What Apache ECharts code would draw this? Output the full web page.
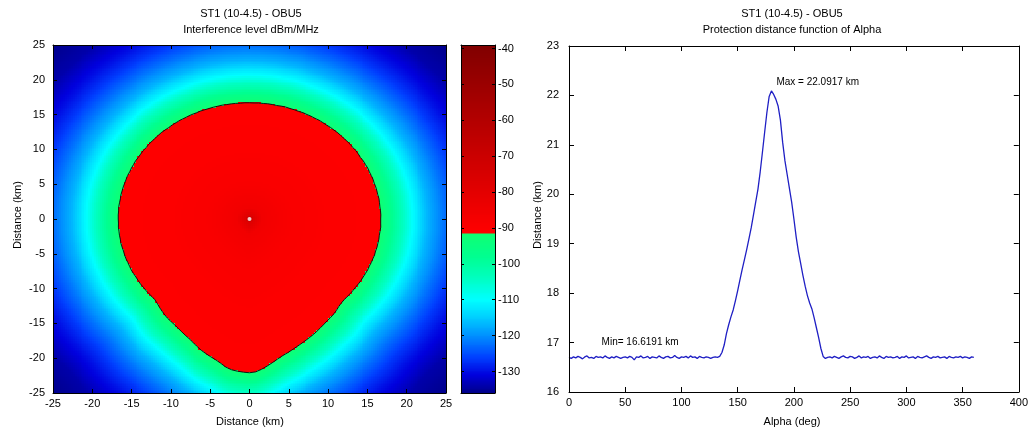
<!DOCTYPE html>
<html lang="en">
<head>
  <meta charset="UTF-8" />
  <title>ST1 (10-4.5) - OBU5</title>
  <script src="https://cdn.jsdelivr.net/npm/echarts@6/dist/echarts.min.js"></script>
  <style>
    body { margin: 0; background: #fff; }
    #chart { width: 1031px; height: 435px; }
  </style>
</head>
<body>
  <div id="chart"></div>
  <script>
    // protection distance (km) vs alpha (deg, clockwise from north), read every 2 deg
    const protDist = [
      16.70, 16.68, 16.71, 16.69, 16.72, 16.70, 16.67, 16.71, 16.73, 16.69,
      16.70, 16.68, 16.72, 16.70, 16.71, 16.69, 16.73, 16.70, 16.68, 16.71,
      16.69, 16.72, 16.70, 16.68, 16.70, 16.71, 16.69, 16.72, 16.70, 16.65,
      16.71, 16.70, 16.73, 16.69, 16.70, 16.72, 16.68, 16.71, 16.70, 16.69,
      16.73, 16.70, 16.68, 16.71, 16.72, 16.69, 16.70, 16.74, 16.70, 16.68,
      16.71, 16.70, 16.72, 16.69, 16.73, 16.70, 16.71, 16.68, 16.72, 16.70,
      16.69, 16.71, 16.70, 16.68, 16.70, 16.71, 16.70,
      16.72, 16.80, 16.95, 17.18, 17.36, 17.52, 17.66, 17.85, 18.05, 18.27,
      18.48, 18.68, 18.88, 19.10, 19.32, 19.58, 19.84, 20.10, 20.45, 20.85,
      21.26, 21.66, 21.98, 22.0917, 22.02, 21.92, 21.78, 21.50, 21.05, 20.68,
      20.40, 20.12, 19.84, 19.50, 19.14, 18.84, 18.60, 18.36, 18.14, 17.95,
      17.80, 17.68, 17.50, 17.30, 17.10, 16.88, 16.72,
      16.68, 16.70, 16.71, 16.69, 16.72, 16.70, 16.68, 16.71, 16.73, 16.70,
      16.69, 16.72, 16.71, 16.68, 16.70, 16.73, 16.69, 16.71, 16.70, 16.72,
      16.68, 16.70, 16.71, 16.69, 16.73, 16.70, 16.68, 16.72, 16.70, 16.71,
      16.69, 16.70, 16.72, 16.68, 16.71, 16.70, 16.73, 16.69, 16.70, 16.71,
      16.68, 16.72, 16.70, 16.69, 16.71, 16.73, 16.70, 16.68, 16.71, 16.70,
      16.72, 16.69, 16.70, 16.71, 16.68, 16.72, 16.70, 16.69, 16.71, 16.70,
      16.72, 16.69, 16.71, 16.70, 16.68, 16.71, 16.70
    ];
    const alphaDeg = protDist.map((_, i) => i * 2);

    const outerKm = [0, 1, 2, 3, 4, 5, 6, 8, 10, 12, 15, 19];
    const outerDb = [-92, -96, -100.5, -105, -110, -113.5, -117, -122, -126.5, -130, -134, -136];
    // inside the contour, vs fraction of the protection distance
    const innerFrac = [0, 0.03, 0.1, 0.3, 0.6, 1];
    const innerDb = [-60, -78, -86, -89, -90.5, -91.2];
    const sourcePos = [[0, 0]];

    const levelTicks = [-130, -120, -110, -100, -90, -80, -70, -60, -50, -40];
    const levelMin = -136, levelMax = -39, threshold = -91.5;

    // colour map: jet-like below the threshold, reds above it
    const colorStops = [
      [-136, [0, 0, 136]], [-131, [0, 0, 221]], [-126, [0, 64, 255]], [-120, [0, 144, 255]],
      [-114, [0, 216, 255]], [-110, [0, 255, 255]], [-104, [0, 255, 192]], [-98, [0, 255, 144]],
      [threshold - 0.01, [16, 255, 112]], [threshold, [255, 0, 0]], [-39, [128, 0, 0]]
    ];
    function colorAt(v) {
      let a = colorStops[0], b = colorStops[colorStops.length - 1];
      for (let i = 1; i < colorStops.length; i++) {
        if (v <= colorStops[i][0]) { a = colorStops[i - 1]; b = colorStops[i]; break; }
      }
      const t = Math.max(0, Math.min(1, (v - a[0]) / (b[0] - a[0])));
      const c = a[1].map((ch, k) => Math.round(ch + t * (b[1][k] - ch)));
      return 'rgb(' + c.join(',') + ')';
    }
    const palette = [];
    for (let v = levelMin; v <= levelMax + 1e-9; v += 0.25) palette.push(colorAt(v));

    function interp(xs, ys, x) {
      if (x <= xs[0]) return ys[0];
      for (let i = 1; i < xs.length; i++) {
        if (x <= xs[i]) return ys[i - 1] + (x - xs[i - 1]) / (xs[i] - xs[i - 1]) * (ys[i] - ys[i - 1]);
      }
      return ys[ys.length - 1];
    }

    // field cells built from the read profiles
    const cell = 0.25;
    const field = [];
    for (let x = -25 + cell / 2; x < 25; x += cell) {
      for (let y = -25 + cell / 2; y < 25; y += cell) {
        const r = Math.hypot(x, y);
        let a = Math.atan2(x, y) * 180 / Math.PI;
        if (a < 0) a += 360;
        const d = interp(alphaDeg, protDist, a);
        const v = r <= d ? interp(innerFrac, innerDb, r / d) : interp(outerKm, outerDb, r - d);
        field.push([x, y, v]);
      }
    }
    const barCells = [];
    for (let v = levelMin + 0.125; v < levelMax; v += 0.25) barCells.push([0.5, v, v]);

    const contour = alphaDeg.map((a, i) => {
      const rad = a * Math.PI / 180;
      return [protDist[i] * Math.sin(rad), protDist[i] * Math.cos(rad)];
    });
    const profile = alphaDeg.map((a, i) => [a, protDist[i]]);

    function cellRenderer(hx, hy) {
      return function (params, api) {
        const x = api.value(0), y = api.value(1);
        const p0 = api.coord([x - hx, y + hy]);
        const p1 = api.coord([x + hx, y - hy]);
        const x0 = Math.round(p0[0]), y0 = Math.round(p0[1]);
        const x1 = Math.round(p1[0]), y1 = Math.round(p1[1]);
        if (x1 <= x0 || y1 <= y0) return null;
        return { type: 'rect', shape: { x: x0, y: y0, width: x1 - x0, height: y1 - y0 },
          style: { fill: api.visual('color') } };
      };
    }

    const font = '"Liberation Sans", Arial, sans-serif';
    const label = { color: '#000', fontSize: 11, fontFamily: font };
    const line = { lineStyle: { color: '#000', width: 1 } };

    function axis(extra) {
      return Object.assign({
        type: 'value', z: 10, axisLine: Object.assign({ onZero: false }, line),
        axisTick: { inside: true, length: 4, lineStyle: { color: '#000' } },
        axisLabel: Object.assign({}, label), splitLine: { show: false }
      }, extra);
    }
    const noLabel = { show: false };
    const longTick = { inside: true, length: 5, lineStyle: { color: '#000' } };

    function text(str, x, y, rotate) {
      return {
        type: 'text', x: x, y: y, rotation: rotate ? Math.PI / 2 : 0,
        style: { text: str, align: 'center', verticalAlign: 'middle', fill: '#000', font: '11px ' + font }
      };
    }

    const chart = echarts.init(document.getElementById('chart'));
    chart.setOption({
      backgroundColor: '#fff',
      animation: false,
      grid: [
        { left: 53, top: 45, width: 393, height: 348 },
        { left: 461, top: 45, width: 34, height: 348 },
        { left: 569, top: 46, width: 450, height: 346 }
      ],
      xAxis: [
        axis({ gridIndex: 0, min: -25, max: 25, interval: 5, axisLabel: Object.assign({ margin: 5 }, label) }),
        axis({ gridIndex: 0, position: 'top', min: -25, max: 25, interval: 5, axisLabel: noLabel }),
        axis({ gridIndex: 1, min: 0, max: 1, axisTick: noLabel, axisLabel: noLabel }),
        axis({ gridIndex: 1, position: 'top', min: 0, max: 1, axisTick: noLabel, axisLabel: noLabel }),
        axis({ gridIndex: 2, min: 0, max: 400, interval: 50, axisTick: longTick, axisLabel: Object.assign({ margin: 5 }, label) }),
        axis({ gridIndex: 2, position: 'top', min: 0, max: 400, interval: 50, axisTick: longTick, axisLabel: noLabel })
      ],
      yAxis: [
        axis({ gridIndex: 0, min: -25, max: 25, interval: 5, axisLabel: Object.assign({ margin: 8 }, label) }),
        axis({ gridIndex: 0, position: 'right', min: -25, max: 25, interval: 5, axisLabel: noLabel }),
        axis({ gridIndex: 1, position: 'right', min: levelMin, max: levelMax,
          axisTick: { inside: true, length: 3, customValues: levelTicks, lineStyle: { color: '#000' } },
          axisLabel: Object.assign({ margin: 3, customValues: levelTicks }, label) }),
        axis({ gridIndex: 1, position: 'left', min: levelMin, max: levelMax,
          axisTick: { inside: true, length: 3, customValues: levelTicks, lineStyle: { color: '#000' } }, axisLabel: noLabel }),
        axis({ gridIndex: 2, min: 16, max: 23, interval: 1, axisTick: longTick, axisLabel: Object.assign({ margin: 10 }, label) }),
        axis({ gridIndex: 2, position: 'right', min: 16, max: 23, interval: 1, axisTick: longTick, axisLabel: noLabel })
      ],
      visualMap: {
        type: 'continuous', show: false, seriesIndex: [0, 1], dimension: 2,
        min: levelMin, max: levelMax, inRange: { color: palette }
      },
      series: [
        {
          type: 'custom', xAxisIndex: 0, yAxisIndex: 0, z: 1, progressive: 0,
          renderItem: cellRenderer(cell / 2, cell / 2), data: field, silent: true
        },
        {
          type: 'custom', xAxisIndex: 2, yAxisIndex: 2, z: 1, progressive: 0,
          renderItem: cellRenderer(0.5, 0.125), data: barCells, silent: true
        },
        {
          type: 'line', xAxisIndex: 0, yAxisIndex: 0, data: contour.concat([contour[0]]),
          showSymbol: false, lineStyle: { color: '#111', width: 1 }, z: 3, silent: true
        },
        {
          type: 'scatter', xAxisIndex: 0, yAxisIndex: 0, data: sourcePos,
          symbolSize: 4, itemStyle: { color: '#fff' }, z: 4, silent: true
        },
        {
          type: 'line', xAxisIndex: 4, yAxisIndex: 4, data: profile, showSymbol: false,
          lineStyle: { color: '#1f1fc4', width: 1.3 }, z: 3,
          markPoint: {
            symbolSize: 0, silent: true,
            label: { color: '#000', fontSize: 10, fontFamily: font },
            data: [
              { type: 'max', label: { position: 'right', distance: 5, offset: [0, -9], formatter: 'Max = 22.0917 km' } },
              { coord: [29, 17.01], label: { position: 'right', distance: 0, formatter: 'Min= 16.6191 km' } }
            ]
          }
        }
      ],
      graphic: [
        text('ST1 (10-4.5) - OBU5', 251, 14),
        text('Interference level dBm/MHz', 251, 30),
        text('ST1 (10-4.5) - OBU5', 792, 14),
        text('Protection distance function of Alpha', 792, 30),
        text('Distance (km)', 250, 422),
        text('Alpha (deg)', 792, 422),
        text('Distance (km)', 18, 215, true),
        text('Distance (km)', 538, 215, true)
      ]
    });
    window.addEventListener('resize', () => chart.resize());
  </script>
</body>
</html>
